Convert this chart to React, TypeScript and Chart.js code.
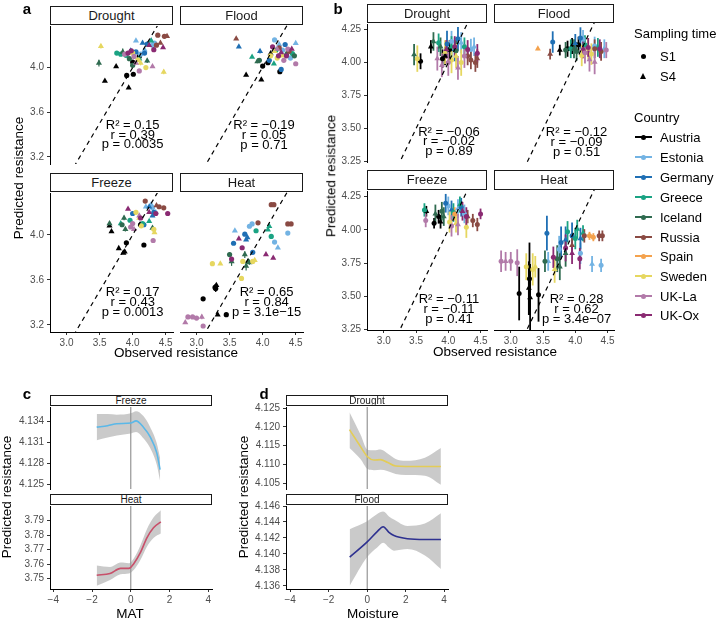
import React, { useEffect, useRef } from 'react';
import { Chart, registerables } from 'chart.js';
Chart.register(...registerables);

const FONT = '"Liberation Sans", Arial, Helvetica, sans-serif';

const countries = ['Austria', 'Estonia', 'Germany', 'Greece', 'Iceland', 'Russia', 'Spain', 'Sweden', 'UK-La', 'UK-Ox'];
const countryColors = ['#000000', '#73b3e3', '#1f6fb4', '#1aa383', '#2f6b50', '#8a4a43', '#f4a24d', '#e6d760', '#b27aa9', '#8a2a72'];
const samplingTimes = ['S1', 'S4'];

// [countryIndex, samplingTime (1|4), observed, predicted, error]
type Pt = [number, number, number, number, number];

const aDrought: Pt[] = [
  [0,4,3.58,3.88,0.01],[0,4,3.75,4.01,0.01],[0,4,3.94,3.82,0.01],[0,1,3.91,3.93,0.01],[0,1,4.01,3.94,0.01],[0,1,4.0,4.05,0.015],[0,1,4.1,4.1,0.01],
  [1,4,4.05,4.24,0.01],[1,4,4.28,4.24,0.01],[1,4,4.18,4.16,0.01],[1,1,4.3,4.2,0.01],[1,1,4.33,4.22,0.01],[1,1,4.12,4.12,0.01],
  [2,1,4.18,4.13,0.015],[2,1,4.05,4.14,0.01],[2,1,4.22,4.21,0.01],[2,4,3.97,4.15,0.01],[2,4,4.15,4.22,0.01],
  [3,1,3.76,4.13,0.01],[3,1,3.9,4.11,0.01],[3,1,3.82,4.12,0.01],[3,4,4.1,4.08,0.01],[3,4,4.28,4.24,0.01],
  [4,4,3.49,4.04,0.03],[4,4,3.85,4.14,0.03],[4,4,4.22,4.06,0.02],[4,1,4.0,4.02,0.01],[4,1,3.95,4.08,0.01],
  [5,1,4.38,4.29,0.01],[5,1,4.48,4.28,0.01],[5,1,4.36,4.2,0.01],[5,4,4.52,4.28,0.01],[5,4,4.42,4.22,0.01],
  [7,4,3.52,4.19,0.02],[7,4,4.47,3.96,0.02],[7,4,4.12,4.04,0.02],[7,1,4.0,4.13,0.01],[7,1,4.08,4.07,0.01],[7,1,4.2,4.0,0.01],
  [8,1,4.1,3.97,0.01],[8,1,3.88,4.12,0.01],[8,1,4.02,4.1,0.01],[8,4,4.3,4.01,0.01],[8,4,4.05,4.04,0.01],
  [9,1,3.98,4.15,0.01],[9,1,3.93,4.13,0.01],[9,1,4.32,4.16,0.01],[9,4,4.46,4.18,0.01],[9,4,4.25,4.2,0.01],
];
const aFlood: Pt[] = [
  [0,4,3.75,3.93,0.01],[0,4,3.98,3.89,0.01],[0,4,4.12,4.12,0.01],[0,1,4.0,4.01,0.01],[0,1,4.26,3.96,0.01],[0,1,4.08,4.04,0.01],
  [1,1,4.18,4.24,0.01],[1,1,4.3,4.15,0.01],[1,1,4.42,4.08,0.01],[1,4,4.5,4.21,0.01],[1,4,4.25,4.2,0.01],
  [2,4,3.64,4.18,0.01],[2,4,3.96,4.14,0.02],[2,1,4.1,4.06,0.01],[2,1,4.34,4.2,0.01],[2,1,4.28,3.98,0.01],
  [3,4,3.84,4.09,0.01],[3,4,4.17,4.03,0.01],[3,1,4.2,4.15,0.01],[3,1,4.45,4.12,0.01],
  [4,1,3.95,4.06,0.015],[4,1,4.48,4.1,0.01],[4,4,3.92,4.05,0.015],[4,4,4.36,4.12,0.01],
  [5,4,3.6,4.25,0.01],[5,1,4.25,4.17,0.01],[5,1,4.4,4.14,0.01],
  [7,1,4.12,4.1,0.01],[7,1,4.22,4.08,0.01],[7,4,4.18,4.14,0.01],[7,4,4.3,4.1,0.01],
  [8,1,4.5,4.03,0.01],[8,1,4.32,4.06,0.01],[8,1,4.38,4.16,0.01],[8,4,4.22,4.16,0.01],
  [9,1,4.24,4.1,0.01],[9,1,4.36,4.1,0.01],[9,1,4.15,4.18,0.01],[9,4,4.28,4.13,0.01],[9,4,4.44,4.16,0.01],
];
const aFreeze: Pt[] = [
  [0,4,3.65,4.08,0.01],[0,4,3.68,4.03,0.01],[0,4,3.79,3.88,0.01],[0,4,3.86,3.84,0.01],[0,4,3.88,3.85,0.01],[0,1,3.905,3.93,0.01],[0,1,4.17,3.91,0.01],[0,1,4.12,4.09,0.01],
  [1,4,4.2,4.25,0.01],[1,4,4.28,4.27,0.01],[1,4,4.35,4.2,0.01],[1,1,4.3,4.24,0.01],
  [2,1,4.0,4.19,0.01],[2,1,4.17,4.09,0.01],[2,1,4.32,4.2,0.01],[2,4,4.25,4.25,0.01],[2,4,4.3,4.17,0.01],
  [3,1,3.96,4.13,0.01],[3,1,4.15,4.1,0.01],[3,4,4.25,4.12,0.01],[3,4,3.82,4.1,0.01],
  [4,4,3.87,4.15,0.02],[4,4,3.89,4.05,0.02],[4,4,4.3,4.06,0.02],[4,4,3.65,4.1,0.02],[4,1,3.84,4.09,0.01],
  [5,1,4.19,4.3,0.01],[5,1,4.4,4.25,0.01],[5,1,4.47,4.24,0.01],[5,4,4.36,4.26,0.01],
  [7,1,4.05,4.2,0.01],[7,1,4.13,4.08,0.01],[7,1,4.32,4.05,0.01],[7,4,4.33,4.02,0.01],[7,4,4.1,4.15,0.01],
  [8,1,4.31,3.95,0.01],[8,1,4.0,4.1,0.01],[8,1,3.97,4.07,0.01],[8,4,4.02,4.05,0.01],[8,4,4.1,4.17,0.01],
  [9,4,3.93,4.23,0.01],[9,4,4.25,4.2,0.01],[9,1,4.53,4.19,0.01],[9,1,4.35,4.19,0.01],[9,1,4.12,4.15,0.01],
];
const aHeat: Pt[] = [
  [0,1,3.1,3.43,0.015],[0,1,3.28,3.53,0.03],[0,1,3.29,3.52,0.03],[0,1,3.45,3.29,0.01],[0,4,3.32,3.29,0.01],[0,4,3.3,3.55,0.02],
  [1,4,3.58,4.03,0.01],[1,4,4.23,3.88,0.01],[1,1,3.8,4.07,0.01],[1,1,3.84,4.09,0.01],[1,1,4.18,3.93,0.01],[1,1,4.38,4.01,0.01],
  [2,1,3.56,3.92,0.015],[2,1,3.73,4.0,0.015],[2,1,3.85,3.84,0.01],[2,4,3.77,3.97,0.015],[2,4,3.75,3.95,0.01],
  [3,1,3.9,4.03,0.01],[3,1,4.13,3.98,0.01],[3,4,4.08,4.04,0.01],[3,4,4.1,4.07,0.01],
  [4,1,3.5,3.82,0.02],[4,4,3.53,3.76,0.04],[4,4,3.75,3.72,0.04],[4,4,3.73,3.82,0.03],[4,4,3.78,3.76,0.02],[4,4,3.8,3.75,0.02],
  [5,1,4.13,4.26,0.01],[5,1,4.17,4.26,0.01],[5,1,4.38,4.09,0.01],[5,1,4.43,4.09,0.01],[5,1,3.93,4.1,0.015],
  [7,1,3.24,3.74,0.01],[7,1,3.68,3.61,0.01],[7,1,3.85,3.76,0.01],[7,1,3.7,3.76,0.01],[7,4,3.36,3.74,0.01],[7,4,3.88,3.77,0.01],
  [8,1,2.87,3.27,0.015],[8,1,2.94,3.27,0.015],[8,1,3.0,3.26,0.015],[8,1,3.1,3.19,0.01],[8,4,2.83,3.22,0.01],[8,4,3.08,3.27,0.02],
  [9,1,3.53,3.78,0.01],[9,1,3.69,3.88,0.01],[9,4,3.64,3.96,0.01],[9,4,4.05,3.82,0.01],[9,4,4.16,3.79,0.01],
];

const bDrought: Pt[] = [
  [0,1,3.57,4.01,0.06],[0,1,3.91,4.03,0.07],[0,1,4.02,4.1,0.07],[0,4,3.73,4.12,0.05],[0,4,3.95,4.05,0.07],
  [1,1,4.05,4.16,0.08],[1,1,4.35,4.1,0.08],[1,4,4.2,4.15,0.08],[1,4,4.4,4.12,0.07],
  [2,1,3.98,4.14,0.1],[2,1,4.15,4.18,0.09],[2,4,4.1,4.1,0.09],
  [3,1,3.85,4.15,0.07],[3,1,4.25,4.12,0.07],[3,4,4.05,4.12,0.08],
  [4,4,3.47,4.06,0.08],[4,4,3.77,4.16,0.07],[4,4,3.88,4.12,0.07],[4,1,4.12,4.09,0.08],
  [5,1,4.35,4.02,0.07],[5,1,4.42,4.0,0.07],[5,1,4.3,4.05,0.07],[5,4,4.45,4.03,0.07],
  [7,1,3.52,4.03,0.1],[7,1,4.05,4.02,0.1],[7,1,4.2,4.0,0.1],[7,4,4.12,4.05,0.09],[7,4,3.95,4.08,0.09],
  [8,4,3.83,4.03,0.09],[8,4,4.15,3.96,0.09],[8,4,3.9,3.98,0.09],[8,1,4.0,4.0,0.1],[8,1,4.25,4.05,0.09],
  [9,1,4.45,4.07,0.07],[9,1,4.1,4.12,0.08],[9,1,4.3,4.1,0.07],[9,4,3.97,4.1,0.07],
];
const bFlood: Pt[] = [
  [0,4,3.76,4.09,0.04],[0,4,3.95,4.12,0.06],[0,1,3.88,4.1,0.06],[0,1,4.05,4.13,0.06],
  [1,1,4.12,4.17,0.07],[1,1,4.3,4.12,0.07],[1,4,4.45,4.1,0.07],
  [2,1,3.65,4.15,0.08],[2,1,4.08,4.18,0.08],[2,4,4.0,4.14,0.07],
  [3,1,4.15,4.13,0.07],[3,1,3.93,4.1,0.07],[3,4,4.35,4.11,0.07],
  [4,1,3.85,4.09,0.06],[4,1,4.02,4.08,0.07],[4,4,3.98,4.1,0.07],
  [5,4,3.61,4.06,0.04],[5,1,4.3,4.1,0.07],[5,1,4.4,4.08,0.07],
  [6,4,3.42,4.1,0.01],
  [7,1,4.1,4.05,0.08],[7,1,4.25,4.06,0.08],[7,4,4.2,4.1,0.08],
  [8,4,4.22,4.02,0.09],[8,4,4.3,4.0,0.09],[8,1,4.48,4.09,0.06],[8,1,4.15,4.07,0.08],
  [9,1,4.2,4.11,0.07],[9,1,4.38,4.1,0.07],[9,4,4.12,4.1,0.07],
];
const bFreeze: Pt[] = [
  [0,4,3.66,4.14,0.04],[0,4,3.88,4.06,0.05],[0,1,3.78,4.05,0.04],[0,1,3.85,4.1,0.05],
  [1,1,4.0,4.18,0.07],[1,1,4.25,4.12,0.07],[1,4,4.15,4.16,0.07],
  [2,1,3.96,4.2,0.07],[2,1,4.2,4.17,0.07],[2,4,4.05,4.15,0.07],
  [3,1,3.63,4.15,0.05],[3,1,4.08,4.13,0.07],[3,4,4.18,4.19,0.06],
  [4,4,3.8,4.12,0.07],[4,4,3.93,4.1,0.07],[4,1,3.9,4.14,0.07],
  [5,1,4.45,4.04,0.05],[5,1,4.38,4.07,0.05],[5,4,4.3,4.1,0.05],
  [6,1,4.1,4.12,0.05],
  [7,1,4.02,4.06,0.08],[7,1,4.28,4.02,0.08],[7,4,4.12,4.05,0.07],
  [8,1,3.65,4.07,0.05],[8,1,4.05,4.03,0.08],[8,4,4.15,4.04,0.08],
  [9,1,4.5,4.12,0.04],[9,1,4.28,4.1,0.07],[9,4,4.22,4.14,0.07],
];
const bHeat: Pt[] = [
  [0,1,3.13,3.52,0.2],[0,1,3.43,3.51,0.2],[0,1,3.29,3.63,0.27],[0,4,3.3,3.49,0.25],[0,4,3.28,3.56,0.2],
  [1,4,3.58,3.76,0.07],[1,4,4.26,3.74,0.06],[1,1,4.4,3.73,0.05],[1,1,3.75,3.85,0.1],[1,1,4.08,3.82,0.08],
  [2,1,3.56,3.97,0.13],[2,1,3.78,3.9,0.12],[2,1,3.95,3.95,0.1],[2,4,3.85,3.92,0.1],[2,4,4.08,3.93,0.08],
  [3,1,3.88,3.98,0.08],[3,1,4.0,3.93,0.08],[3,4,4.03,4.0,0.07],[3,4,4.12,3.97,0.06],
  [4,1,3.53,3.76,0.08],[4,1,3.72,3.78,0.1],[4,4,3.76,3.72,0.1],[4,4,3.85,3.82,0.1],
  [5,1,4.14,3.95,0.05],[5,1,4.37,3.95,0.04],[5,1,4.42,3.95,0.04],[5,4,3.95,3.88,0.06],
  [6,1,4.28,3.94,0.03],[6,1,4.22,3.95,0.03],
  [7,1,3.24,3.72,0.1],[7,1,3.34,3.7,0.12],[7,4,3.38,3.72,0.08],[7,4,3.68,3.7,0.1],
  [8,1,2.85,3.76,0.08],[8,1,3.1,3.75,0.1],[8,1,3.0,3.76,0.07],[8,4,2.92,3.76,0.07],
  [9,1,3.66,3.79,0.08],[9,1,3.85,3.86,0.1],[9,1,4.07,3.78,0.08],[9,4,3.95,3.82,0.08],
];

// fit statistics: [R2, r, p]
const aDroughtStats = ['0.15', '0.39', '0.0035'];
const aFloodStats = ['\u22120.19', '0.05', '0.71'];
const aFreezeStats = ['0.17', '0.43', '0.0013'];
const aHeatStats = ['0.65', '0.84', '3.1e\u221215'];
const bDroughtStats = ['\u22120.06', '\u22120.02', '0.89'];
const bFloodStats = ['\u22120.12', '\u22120.09', '0.51'];
const bFreezeStats = ['\u22120.11', '\u22120.11', '0.41'];
const bHeatStats = ['0.28', '0.62', '3.4e\u221207'];

// smooth curves (panels c, d)
const matFreezeX = [-1.76, -1.2, -0.72, 0, 0.27, 0.65, 1.0, 1.34, 1.51];
const matFreezeY = [4.1332, 4.1334, 4.1337, 4.1338, 4.1341, 4.1332, 4.1318, 4.1295, 4.1271];
const matFreezeLo = [4.1313, 4.1317, 4.132, 4.1323, 4.1325, 4.1316, 4.1302, 4.1278, 4.1255];
const matFreezeHi = [4.1351, 4.1351, 4.135, 4.1352, 4.1355, 4.1348, 4.1332, 4.1309, 4.1288];
const matHeatX = [-1.76, -1.07, -0.53, -0.1, 0.16, 0.5, 0.83, 1.17, 1.55];
const matHeatY = [3.7523, 3.7535, 3.757, 3.757, 3.7604, 3.768, 3.778, 3.785, 3.789];
const matHeatLo = [3.745, 3.749, 3.753, 3.7535, 3.756, 3.763, 3.772, 3.778, 3.781];
const matHeatHi = [3.759, 3.758, 3.761, 3.7605, 3.764, 3.773, 3.784, 3.792, 3.797];
const moistDroughtX = [-0.92, -0.35, 0.03, 0.35, 0.7, 1.04, 1.48, 2.0, 3.0, 3.83];
const moistDroughtY = [4.1193, 4.1148, 4.112, 4.1112, 4.1113, 4.1106, 4.1096, 4.1095, 4.1095, 4.1095];
const moistDroughtLo = [4.1144, 4.1115, 4.1088, 4.1085, 4.1086, 4.1083, 4.1075, 4.1072, 4.107, 4.1046];
const moistDroughtHi = [4.1239, 4.118, 4.1139, 4.1138, 4.114, 4.113, 4.1115, 4.111, 4.1118, 4.1144];
const moistFloodX = [-0.91, 0, 0.52, 0.83, 1.13, 1.39, 2.09, 3.0, 3.83];
const moistFloodY = [4.1396, 4.1415, 4.1428, 4.1434, 4.1427, 4.1423, 4.1419, 4.1418, 4.1418];
const moistFloodLo = [4.136, 4.1396, 4.1408, 4.1414, 4.1408, 4.1404, 4.1406, 4.1398, 4.1381];
const moistFloodHi = [4.1431, 4.1441, 4.145, 4.1453, 4.1447, 4.1443, 4.1435, 4.1438, 4.1451];

// ticks
const obsTicks = [3.0, 3.5, 4.0, 4.5];
const aPredTicks = [3.2, 3.6, 4.0];
const bPredTicks = [3.25, 3.5, 3.75, 4.0, 4.25];
const envTicks = [-4, -2, 0, 2, 4];
const cFreezeTicks = [4.125, 4.128, 4.131, 4.134];
const cHeatTicks = [3.75, 3.76, 3.77, 3.78, 3.79];
const dDroughtTicks = [4.105, 4.11, 4.115, 4.12, 4.125];
const dFloodTicks = [4.136, 4.138, 4.14, 4.142, 4.144, 4.146];

function fmt(v: number, dec: number) {
  const s = Math.abs(v).toFixed(dec);
  return v < -1e-9 ? '\u2212' + s : s;
}

function makeAxis(kind: string, min: number, max: number, ticks: number[], dec: number, show: boolean, size: number) {
  return {
    type: 'linear',
    min, max, bounds: 'data',
    display: show,
    position: kind === 'x' ? 'bottom' : 'left',
    afterBuildTicks: (s: any) => { s.ticks = ticks.map((v) => ({ value: v })); },
    afterFit: (s: any) => { if (kind === 'x') s.height = size; else s.width = size; },
    grid: { display: true, drawOnChartArea: false, drawTicks: true, tickLength: 3, color: '#333333', lineWidth: 1 },
    border: { display: true, color: '#000000', width: 1 },
    ticks: {
      color: '#4d4d4d', font: { family: FONT, size: 10 }, padding: kind === 'x' ? 2 : 3,
      autoSkip: false, maxRotation: 0, minRotation: 0,
      callback: (v: any) => fmt(Number(v), dec),
    },
  };
}

type Geo = { left: number; top: number; w: number; h: number; showX: boolean; showY: boolean };

function frame(g: Geo) {
  const yW = g.showY ? 36 : 0;
  const padL = g.showY ? 0 : 6;
  const padT = 8, padR = 12;
  const xH = g.showX ? 20 : 0;
  const padB = g.showX ? 0 : 8;
  return { yW, padL, padT, padR, xH, padB, W: yW + padL + g.w + padR, H: padT + g.h + xH + padB, left: g.left - yW - padL, top: g.top - padT };
}

function ScatterFacet(props: any) {
  const { g, xr, yr, yTicks, yDec, pts, stats, statX, statY, pr, errW } = props;
  const ref = useRef<HTMLCanvasElement>(null);
  const f = frame(g);
  useEffect(() => {
    const errPlugin = {
      id: 'errbars',
      beforeDatasetsDraw(chart: any) {
        const { ctx, chartArea: a, scales } = chart;
        const x = scales.x, y = scales.y;
        ctx.save();
        ctx.beginPath();
        ctx.rect(a.left, a.top, a.right - a.left, a.bottom - a.top);
        ctx.clip();
        ctx.lineWidth = errW;
        for (const p of pts) {
          const px = x.getPixelForValue(p[2]);
          ctx.strokeStyle = countryColors[p[0]];
          ctx.beginPath();
          ctx.moveTo(px, y.getPixelForValue(p[3] - p[4]));
          ctx.lineTo(px, y.getPixelForValue(p[3] + p[4]));
          ctx.stroke();
        }
        ctx.restore();
      },
    };
    const labels = ['R\u00b2 = ' + stats[0], 'r = ' + stats[1], 'p = ' + stats[2]];
    const textPlugin = {
      id: 'stats',
      afterDatasetsDraw(chart: any) {
        const { ctx, scales } = chart;
        ctx.save();
        ctx.font = '13px ' + FONT;
        ctx.fillStyle = '#000';
        ctx.textAlign = 'center';
        ctx.textBaseline = 'middle';
        labels.forEach((s, i) => ctx.fillText(s, scales.x.getPixelForValue(statX), scales.y.getPixelForValue(statY[i])));
        ctx.restore();
      },
    };
    const chart = new Chart(ref.current as any, {
      type: 'scatter',
      data: {
        datasets: [
          { data: [{ x: 2, y: 2 }, { x: 5, y: 5 }], showLine: true, borderColor: '#000000', borderWidth: 1.2, borderDash: [4.5, 4], pointRadius: 0, clip: 0 } as any,
          {
            data: pts.map((p: Pt) => ({ x: p[2], y: p[3] })),
            pointStyle: pts.map((p: Pt) => (p[1] === 1 ? 'circle' : 'triangle')),
            pointRadius: pts.map((p: Pt) => (p[1] === 1 ? pr : pr * 1.35)),
            pointBackgroundColor: pts.map((p: Pt) => countryColors[p[0]]),
            pointBorderColor: 'rgba(0,0,0,0)',
            pointBorderWidth: 0,
          } as any,
        ],
      },
      options: {
        responsive: false, animation: false, devicePixelRatio: 1, events: [],
        layout: { padding: { left: f.padL, top: f.padT, right: f.padR, bottom: f.padB } },
        plugins: { legend: { display: false }, tooltip: { enabled: false } },
        scales: {
          x: makeAxis('x', xr[0], xr[1], obsTicks, 1, g.showX, f.xH),
          y: makeAxis('y', yr[0], yr[1], yTicks, yDec, g.showY, f.yW),
        } as any,
      },
      plugins: [errPlugin, textPlugin],
    });
    return () => chart.destroy();
  }, []);
  return <canvas ref={ref} width={f.W} height={f.H} style={{ position: 'absolute', left: f.left, top: f.top, width: f.W, height: f.H }} />;
}

function CurveFacet(props: any) {
  const { g, xr, yr, yTicks, yDec, cx, cy, clo, chi, color } = props;
  const ref = useRef<HTMLCanvasElement>(null);
  const f = frame(g);
  useEffect(() => {
    const pts = (ys: number[]) => cx.map((x: number, i: number) => ({ x, y: ys[i] }));
    const chart = new Chart(ref.current as any, {
      type: 'line',
      data: {
        datasets: [
          { data: pts(cy), borderColor: color, borderWidth: 1.6, pointRadius: 0, cubicInterpolationMode: 'monotone', fill: false } as any,
          { data: pts(chi), borderColor: 'rgba(0,0,0,0)', borderWidth: 1, pointRadius: 0, cubicInterpolationMode: 'monotone', fill: '+1', backgroundColor: 'rgba(150,150,150,0.5)' } as any,
          { data: pts(clo), borderColor: 'rgba(0,0,0,0)', borderWidth: 1, pointRadius: 0, cubicInterpolationMode: 'monotone', fill: false } as any,
          { data: [{ x: 0, y: yr[0] - 1 }, { x: 0, y: yr[1] + 1 }], borderColor: '#808080', borderWidth: 1, pointRadius: 0, clip: 0, fill: false } as any,
        ],
      },
      options: {
        responsive: false, animation: false, devicePixelRatio: 1, events: [],
        layout: { padding: { left: f.padL, top: f.padT, right: f.padR, bottom: f.padB } },
        plugins: { legend: { display: false }, tooltip: { enabled: false } },
        scales: {
          x: makeAxis('x', xr[0], xr[1], envTicks, 0, g.showX, f.xH),
          y: makeAxis('y', yr[0], yr[1], yTicks, yDec, g.showY, f.yW),
        } as any,
      },
    });
    return () => chart.destroy();
  }, []);
  return <canvas ref={ref} width={f.W} height={f.H} style={{ position: 'absolute', left: f.left, top: f.top, width: f.W, height: f.H }} />;
}

function Strip({ x, y, w, h, text, size }: any) {
  return (
    <div style={{ position: 'absolute', left: x, top: y, width: w, height: h, boxSizing: 'border-box', border: '1px solid #1a1a1a', background: '#fff', zIndex: 2, textAlign: 'center', lineHeight: (h - 2) + 'px', fontSize: size, color: '#1a1a1a', whiteSpace: 'nowrap', overflow: 'hidden' }}>{text}</div>
  );
}

function Label({ x, y, text, size, bold, rotate, anchor }: any) {
  return (
    <div style={{ position: 'absolute', left: x, top: y, transform: 'translate(' + (anchor === 'left' ? '0' : '-50%') + ',-50%)' + (rotate ? ' rotate(-90deg)' : ''), fontSize: size, fontWeight: bold ? 'bold' : 'normal', whiteSpace: 'nowrap', color: '#000', lineHeight: 1, zIndex: 3 }}>{text}</div>
  );
}

const aX = [2.75, 4.61];
const aY = [3.137, 4.372];
const bX = [2.74, 4.6];
const bY = [3.248, 4.292];
const aStatY = [3.485, 3.397, 3.309];
const bStatY = [3.475, 3.4, 3.325];

export default function App() {
  const legendCountryY = [137, 157, 177, 197, 217, 237, 256, 276, 296, 315];
  return (
    <div style={{ position: 'fixed', left: 0, top: 0, width: 720, height: 621, background: '#fff', fontFamily: FONT, overflow: 'hidden' }}>
      {/* panel a */}
      <ScatterFacet g={{ left: 50, top: 25, w: 123, h: 140, showX: false, showY: true }} xr={aX} yr={aY} yTicks={aPredTicks} yDec={1} pts={aDrought} stats={aDroughtStats} statX={4.0} statY={aStatY} pr={2.6} errW={1.2} />
      <ScatterFacet g={{ left: 180, top: 25, w: 123, h: 140, showX: false, showY: false }} xr={aX} yr={aY} yTicks={aPredTicks} yDec={1} pts={aFlood} stats={aFloodStats} statX={4.02} statY={aStatY} pr={2.6} errW={1.2} />
      <ScatterFacet g={{ left: 50, top: 192, w: 123, h: 140, showX: true, showY: true }} xr={aX} yr={aY} yTicks={aPredTicks} yDec={1} pts={aFreeze} stats={aFreezeStats} statX={4.0} statY={aStatY} pr={2.6} errW={1.2} />
      <ScatterFacet g={{ left: 180, top: 192, w: 123, h: 140, showX: true, showY: false }} xr={aX} yr={aY} yTicks={aPredTicks} yDec={1} pts={aHeat} stats={aHeatStats} statX={4.06} statY={aStatY} pr={2.6} errW={1.2} />
      <Strip x={50} y={6} w={123} h={19} text="Drought" size={13} />
      <Strip x={180} y={6} w={123} h={19} text="Flood" size={13} />
      <Strip x={50} y={173} w={123} h={19} text="Freeze" size={13} />
      <Strip x={180} y={173} w={123} h={19} text="Heat" size={13} />
      <Label x={27} y={8} text="a" size={15} bold />
      <Label x={19} y={178} text="Predicted resistance" size={13.5} rotate />
      <Label x={176} y={353} text="Observed resistance" size={13.5} />

      {/* panel b */}
      <ScatterFacet g={{ left: 367, top: 23, w: 120, h: 140, showX: false, showY: true }} xr={bX} yr={bY} yTicks={bPredTicks} yDec={2} pts={bDrought} stats={bDroughtStats} statX={4.01} statY={bStatY} pr={2.5} errW={1.8} />
      <ScatterFacet g={{ left: 494, top: 23, w: 120, h: 140, showX: false, showY: false }} xr={bX} yr={bY} yTicks={bPredTicks} yDec={2} pts={bFlood} stats={bFloodStats} statX={4.02} statY={bStatY} pr={2.5} errW={1.8} />
      <ScatterFacet g={{ left: 367, top: 190, w: 120, h: 140, showX: true, showY: true }} xr={bX} yr={bY} yTicks={bPredTicks} yDec={2} pts={bFreeze} stats={bFreezeStats} statX={4.01} statY={bStatY} pr={2.5} errW={1.8} />
      <ScatterFacet g={{ left: 494, top: 190, w: 120, h: 140, showX: true, showY: false }} xr={bX} yr={bY} yTicks={bPredTicks} yDec={2} pts={bHeat} stats={bHeatStats} statX={4.02} statY={bStatY} pr={2.5} errW={1.8} />
      <Strip x={367} y={4} w={120} h={19} text="Drought" size={13} />
      <Strip x={494} y={4} w={120} h={19} text="Flood" size={13} />
      <Strip x={367} y={170} w={120} h={20} text="Freeze" size={13} />
      <Strip x={494} y={170} w={120} h={20} text="Heat" size={13} />
      <Label x={338} y={8} text="b" size={15} bold />
      <Label x={331} y={176} text="Predicted resistance" size={13.5} rotate />
      <Label x={495} y={352} text="Observed resistance" size={13.5} />

      {/* legend */}
      <Label x={634} y={33} text="Sampling time" size={13} anchor="left" />
      {samplingTimes.map((s, i) => (
        <React.Fragment key={s}>
          {i === 0 ? (
            <div style={{ position: 'absolute', left: 641, top: 54, width: 5, height: 5, borderRadius: '50%', background: '#000' }} />
          ) : (
            <div style={{ position: 'absolute', left: 640, top: 73, width: 0, height: 0, borderLeft: '3.5px solid transparent', borderRight: '3.5px solid transparent', borderBottom: '6px solid #000' }} />
          )}
          <Label x={660} y={i === 0 ? 56 : 76} text={s} size={13} anchor="left" />
        </React.Fragment>
      ))}
      <Label x={634} y={117} text="Country" size={13} anchor="left" />
      {countries.map((c, i) => (
        <React.Fragment key={c}>
          <div style={{ position: 'absolute', left: 635, top: legendCountryY[i] - 0.75, width: 17, height: 1.5, background: countryColors[i] }} />
          <div style={{ position: 'absolute', left: 641, top: legendCountryY[i] - 2.5, width: 5, height: 5, borderRadius: '50%', background: countryColors[i] }} />
          <Label x={660} y={legendCountryY[i]} text={c} size={13} anchor="left" />
        </React.Fragment>
      ))}

      {/* panel c */}
      <CurveFacet g={{ left: 50, top: 406, w: 162, h: 84, showX: false, showY: true }} xr={[-4.17, 4.19]} yr={[4.1243, 4.1361]} yTicks={cFreezeTicks} yDec={3} cx={matFreezeX} cy={matFreezeY} clo={matFreezeLo} chi={matFreezeHi} color="#5bb8e8" />
      <CurveFacet g={{ left: 50, top: 505, w: 162, h: 84, showX: true, showY: true }} xr={[-4.17, 4.19]} yr={[3.7428, 3.8]} yTicks={cHeatTicks} yDec={2} cx={matHeatX} cy={matHeatY} clo={matHeatLo} chi={matHeatHi} color="#c8506a" />
      <Strip x={50} y={395} w={162} h={11} text="Freeze" size={10} />
      <Strip x={50} y={494} w={162} h={11} text="Heat" size={10} />
      <Label x={27} y={393} text="c" size={15} bold />
      <Label x={7} y={497} text="Predicted resistance" size={13.5} rotate />
      <Label x={130} y={614} text="MAT" size={13.5} />

      {/* panel d */}
      <CurveFacet g={{ left: 286, top: 406, w: 162, h: 84, showX: false, showY: true }} xr={[-4.22, 4.2]} yr={[4.1035, 4.1253]} yTicks={dDroughtTicks} yDec={3} cx={moistDroughtX} cy={moistDroughtY} clo={moistDroughtLo} chi={moistDroughtHi} color="#e3cc57" />
      <CurveFacet g={{ left: 286, top: 505, w: 162, h: 84, showX: true, showY: true }} xr={[-4.22, 4.2]} yr={[4.1356, 4.146]} yTicks={dFloodTicks} yDec={3} cx={moistFloodX} cy={moistFloodY} clo={moistFloodLo} chi={moistFloodHi} color="#2e3190" />
      <Strip x={286} y={395} w={162} h={11} text="Drought" size={10} />
      <Strip x={286} y={494} w={162} h={11} text="Flood" size={10} />
      <Label x={264} y={393} text="d" size={15} bold />
      <Label x={244} y={497} text="Predicted resistance" size={13.5} rotate />
      <Label x={373} y={614} text="Moisture" size={13.5} />
    </div>
  );
}
